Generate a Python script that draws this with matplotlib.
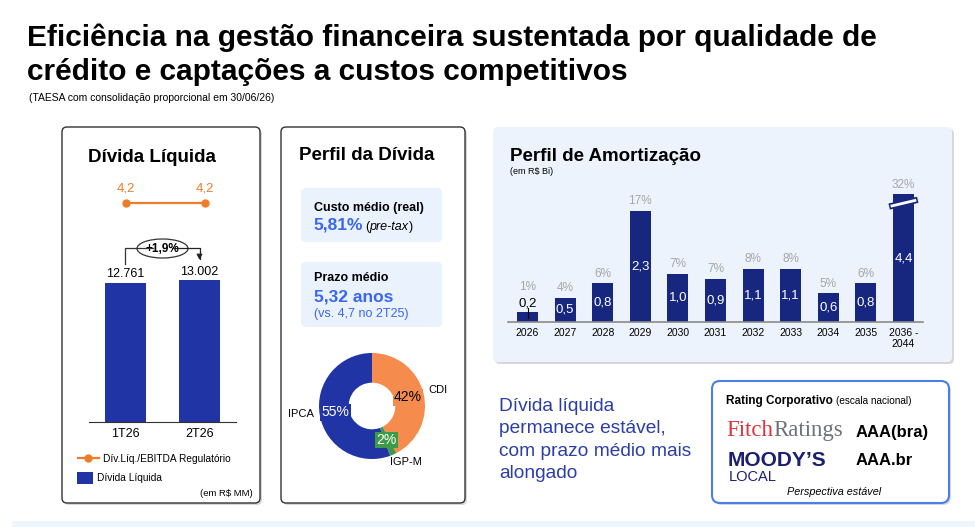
import numpy as np
import matplotlib
matplotlib.use("Agg")
from matplotlib import pyplot as plt
from matplotlib.patches import FancyBboxPatch, Ellipse, Rectangle
from matplotlib.lines import Line2D

plt.rcParams['font.family'] = ['Liberation Sans', 'DejaVu Sans']

W, H = 975, 527

# --- dados ---
trimestres = ['1T26', '2T26']
divida_liquida = [12761, 13002]          # R$ MM
alavancagem = [4.2, 4.2]                 # Div.Liq./EBITDA regulatorio

indexadores = ['CDI', 'IGP-M', 'IPCA']
participacao = [42, 2, 55]               # %

anos = ['2026', '2027', '2028', '2029', '2030', '2031', '2032', '2033',
        '2034', '2035', '2036 -\n2044']
amortizacao = [0.2, 0.5, 0.8, 2.3, 1.0, 0.9, 1.1, 1.1, 0.6, 0.8, 4.4]   # R$ Bi
amortizacao_pct = [1, 4, 6, 17, 7, 7, 8, 8, 5, 6, 32]

custo_medio = 5.81
prazo_medio = 5.32
prazo_anterior = 4.7

# cores
AZUL = '#2134A5'
MARINHO = '#17277F'
LARANJA = '#EE7D2A'
LARANJA_PIZZA = '#F58B4C'
VERDE = '#3D9B47'
AZUL_CLARO = '#3A66F0'
FUNDO = '#EDF3FD'


def br(v, casas=1):
    return f"{v:.{casas}f}".replace('.', ',')


fig = plt.figure(figsize=(W / 100, H / 100), dpi=100)
bg = fig.add_axes([0, 0, 1, 1])
bg.set_xlim(0, W)
bg.set_ylim(H, 0)
bg.axis('off')
renderer = fig.canvas.get_renderer()


def px_axes(x0, y0, x1, y1):
    ax = fig.add_axes([x0 / W, 1 - y1 / H, (x1 - x0) / W, (y1 - y0) / H])
    ax.patch.set_alpha(0)
    return ax


def caixa(x0, y0, x1, y1, fc='white', ec='#333333', lw=1.0, r=5, sombra=True):
    estilo = f"round,pad=0,rounding_size={r}"
    if sombra:
        bg.add_patch(FancyBboxPatch((x0 + 2, y0 + 2), x1 - x0, y1 - y0, boxstyle=estilo,
                                    fc='#bdbdbd', ec='none', alpha=0.6))
    bg.add_patch(FancyBboxPatch((x0, y0), x1 - x0, y1 - y0, boxstyle=estilo,
                                fc=fc, ec=ec, lw=lw))


def seguido(t, s, gap=2, **kw):
    bb = t.get_window_extent(renderer=renderer)
    x = bg.transData.inverted().transform((bb.x1, bb.y0))[0]
    return bg.text(x + gap, t.get_position()[1], s, va='baseline', **kw)


# --- titulo ---
bg.text(27, 46, "Eficiência na gestão financeira sustentada por qualidade de",
        fontsize=21.5, fontweight='bold', va='baseline')
bg.text(27, 80, "crédito e captações a custos competitivos",
        fontsize=21.5, fontweight='bold', va='baseline')
bg.text(29, 101, "(TAESA com consolidação proporcional em 30/06/26)",
        fontsize=7.5, va='baseline')

# faixa inferior
bg.add_patch(Rectangle((12, 521), W - 12, 6, fc='#EEF6FD', ec='none'))

# --- painel 1: Divida Liquida ---
caixa(62, 127, 260, 503)
bg.text(152, 162, "Dívida Líquida", fontsize=13.5, fontweight='bold',
        ha='center', va='baseline')

ax_l = px_axes(89, 180, 236, 225)
ax_l.plot([0, 1], alavancagem, color=LARANJA, lw=1.6, marker='o', ms=5)
for i, v in enumerate(alavancagem):
    ax_l.annotate(br(v), (i, v), xytext=(0, 6), textcoords='offset points',
                  ha='center', va='bottom', color=LARANJA, fontsize=9.5)
ax_l.set_xlim(-0.471, 1.401)
ax_l.set_ylim(3.7, 4.7)
ax_l.axis('off')

ax_d = px_axes(89, 230, 236, 422)
x_d = np.arange(len(trimestres))
ax_d.bar(x_d, divida_liquida, width=0.554, color=AZUL)
for i, v in enumerate(divida_liquida):
    ax_d.annotate(f"{v:,}".replace(',', '.'), (i, v), xytext=(0, 2),
                  textcoords='offset points', ha='center', va='bottom', fontsize=9)
ax_d.set_xlim(-0.493, 1.493)
ax_d.set_ylim(0, 17630)
ax_d.set_xticks(x_d, trimestres, fontsize=9)
ax_d.tick_params(axis='x', length=0, pad=4)
ax_d.set_yticks([])
for s in ['top', 'left', 'right']:
    ax_d.spines[s].set_visible(False)
ax_d.spines['bottom'].set_color('#333333')

# colchete de variacao
variacao = (divida_liquida[1] / divida_liquida[0] - 1) * 100
y_alto = 15974
ax_d.plot([0, 0, 0.37], [14500, y_alto, y_alto], color='#333333', lw=0.9)
ax_d.annotate('', xy=(1, 14870), xytext=(0.63, y_alto),
              arrowprops=dict(arrowstyle='-|>', color='#222222', lw=0.9,
                              connectionstyle='angle,angleA=0,angleB=90,rad=0',
                              shrinkA=0, shrinkB=0, mutation_scale=8))
bg.add_patch(Ellipse((162.5, 248.5), 51, 19, fc='white', ec='#333333', lw=0.9))
bg.text(162.5, 249, f"+{br(variacao)}%", fontsize=8.5, fontweight='bold',
        ha='center', va='center')

# legenda
bg.add_line(Line2D([78, 99], [458, 458], color=LARANJA, lw=1.6))
bg.plot([88], [458], marker='o', color=LARANJA, ms=5)
bg.text(103, 462, "Dív.Líq./EBITDA Regulatório", fontsize=7.3, va='baseline')
bg.add_patch(Rectangle((77, 472), 16, 12, fc=AZUL, ec='none'))
bg.text(97, 481, "Dívida Líquida", fontsize=7.3, va='baseline')
bg.text(253, 496, "(em R$ MM)", fontsize=6.8, ha='right', va='baseline')

# --- painel 2: Perfil da Divida ---
caixa(281, 127, 465, 503)
bg.text(367, 160, "Perfil da Dívida", fontsize=13.5, fontweight='bold',
        ha='center', va='baseline')

caixa(301, 188, 442, 242, fc='#EAF2FE', ec='none', r=5, sombra=False)
caixa(301, 262, 442, 327, fc='#EAF2FE', ec='none', r=5, sombra=False)
bg.text(314, 211, "Custo médio (real)", fontsize=9, fontweight='bold', va='baseline')
t = bg.text(313, 230, f"{br(custo_medio, 2)}%", fontsize=12.5, fontweight='bold',
            color=AZUL_CLARO, va='baseline')
t2 = seguido(t, "(", gap=3, fontsize=9)
t3 = seguido(t2, "pre-tax", gap=0, fontsize=9, fontstyle='italic')
seguido(t3, ")", gap=0, fontsize=9)
bg.text(314, 281, "Prazo médio", fontsize=9, fontweight='bold', va='baseline')
bg.text(314, 301, f"{br(prazo_medio, 2)} anos", fontsize=12.5, fontweight='bold',
        color=AZUL_CLARO, va='baseline')
bg.text(314, 317, f"(vs. {br(prazo_anterior)} no 2T25)", fontsize=9,
        color=AZUL_CLARO, va='baseline')

# rosca
cores_pizza = [LARANJA_PIZZA, VERDE, AZUL]
ax_p = px_axes(372 - 65, 406 - 65, 372 + 65, 406 + 65)
fatias, _ = ax_p.pie(participacao, colors=cores_pizza, startangle=90,
                     counterclock=False, radius=1,
                     wedgeprops=dict(width=0.56, edgecolor='none'))
ax_p.set_xlim(-65 / 53, 65 / 53)
ax_p.set_ylim(-65 / 53, 65 / 53)
ax_p.set_aspect('equal')
ax_p.axis('off')
cor_txt = ['black', 'white', 'white']
for f, v, c, ct in zip(fatias, participacao, cores_pizza, cor_txt):
    ang = np.deg2rad((f.theta1 + f.theta2) / 2)
    ax_p.text(0.7 * np.cos(ang), 0.7 * np.sin(ang), f"{v}%", ha='center', va='center',
              fontsize=10, color=ct,
              bbox=dict(boxstyle='square,pad=0.1', fc=c, ec='none'))
pos_rotulos = {'CDI': (1.25, 0.30), 'IGP-M': (0.64, -1.06), 'IPCA': (-1.34, -0.15)}
for nome in indexadores:
    px, py = pos_rotulos[nome]
    ax_p.text(px, py, nome, ha='center', va='center', fontsize=8)

# --- painel 3: Perfil de Amortizacao ---
caixa(493, 127, 952, 362, fc=FUNDO, ec='none', r=5)
bg.text(510, 161, "Perfil de Amortização", fontsize=13.5, fontweight='bold',
        va='baseline')
bg.text(510, 174, "(em R$ Bi)", fontsize=6.5, va='baseline')

corte = 2.65   # nivel da quebra de eixo da ultima barra
ax_a = px_axes(508, 180, 923, 322)
x_a = np.arange(len(anos))
alturas = np.minimum(amortizacao, corte)
ax_a.bar(x_a, alturas, width=0.56, color=MARINHO)
for i, (v, h, p) in enumerate(zip(amortizacao, alturas, amortizacao_pct)):
    if h < 0.3:
        ax_a.plot([i, i], [0.08, 0.29], color='black', lw=0.8)
        ax_a.text(i, 0.39, br(v), ha='center', va='center', fontsize=9.5, color='black')
        topo = 0.52
    else:
        ax_a.text(i, h / 2, br(v), ha='center', va='center', fontsize=9.5, color='white')
        topo = h
    ax_a.annotate(f"{p}%", (i, topo), xytext=(0, 2.5), textcoords='offset points',
                  ha='center', va='bottom', fontsize=8.5, color='#A6A6A6')
# quebra
ultimo = len(anos) - 1
ax_a.plot([ultimo - 0.38, ultimo + 0.38], [corte - 0.26, corte - 0.12],
          color=MARINHO, lw=4.5, solid_capstyle='butt')
ax_a.plot([ultimo - 0.34, ultimo + 0.34], [corte - 0.253, corte - 0.127],
          color='white', lw=2.0, solid_capstyle='butt')
ax_a.set_xlim(-0.52, 10.52)
ax_a.set_ylim(0, 2.94)
ax_a.set_xticks(x_a, anos, fontsize=7.5, linespacing=1.15)
ax_a.tick_params(axis='x', length=0, pad=4.5)
ax_a.set_yticks([])
for s in ['top', 'left', 'right']:
    ax_a.spines[s].set_visible(False)
ax_a.spines['bottom'].set_color('#8a8a8a')
ax_a.spines['bottom'].set_linewidth(1.2)

# --- mensagem (va='baseline' ancora a ultima linha) ---
bg.text(499, 478, "Dívida líquida\npermanece estável,\ncom prazo médio mais\nalongado",
        fontsize=13.8, color='#2B3EA8', va='baseline', linespacing=1.42)

# --- rating ---
caixa(712, 381, 949, 503, fc='white', ec='#4A7FE8', lw=1.5, r=8)
t = bg.text(726, 404, "Rating Corporativo", fontsize=8.5, fontweight='bold',
            va='baseline')
seguido(t, "(escala nacional)", gap=3, fontsize=7.2)
t = bg.text(726, 436, "Fitch", fontsize=16.5, color='#E0323A', va='baseline',
            family=['Liberation Serif', 'DejaVu Serif'])
seguido(t, "Ratings", gap=0, fontsize=16.5, color='#6F7276',
        family=['Liberation Serif', 'DejaVu Serif'])
bg.text(856, 437, "AAA(bra)", fontsize=12, fontweight='bold', va='baseline')
bg.text(728, 466, "MOODY’S", fontsize=15, fontweight='bold', color='#1A1F71',
        va='baseline')
bg.text(729, 481, "LOCAL", fontsize=10.5, color='#1A1F71', va='baseline')
bg.text(856, 465, "AAA.br", fontsize=12, fontweight='bold', va='baseline')
bg.text(834, 495, "Perspectiva estável", fontsize=7.8, fontstyle='italic',
        ha='center', va='baseline')

fig.savefig('out.png', dpi=100)
